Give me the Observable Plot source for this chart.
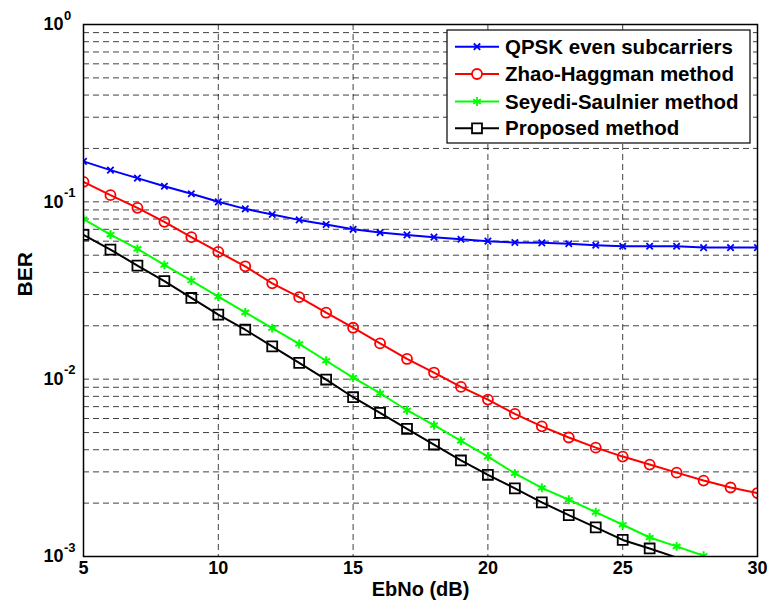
<!DOCTYPE html>
<html>
<head>
<meta charset="utf-8">
<script src="https://cdn.jsdelivr.net/npm/d3@7"></script>
<script src="https://cdn.jsdelivr.net/npm/@observablehq/plot@0.6"></script>
<style>
  html, body { margin: 0; padding: 0; background: #fff; }
  svg { font-family: "Liberation Sans", Arial, sans-serif; }
</style>
</head>
<body>
<div id="chart"></div>
<script>
// ---- data ----
const ebnoQpsk = [5,6,7,8,9,10,11,12,13,14,15,16,17,18,19,20,21,22,23,24,25,26,27,28,29,30];
const qpsk = [0.169,0.151,0.136,0.1225,0.111,0.100,0.0913,0.0848,0.0791,0.0745,0.070,0.0671,0.0651,0.0632,0.0615,0.060,0.059,0.0587,0.058,0.0569,0.0562,0.0562,0.0562,0.0552,0.0552,0.0552];
const ebnoZhao = [5,6,7,8,9,10,11,12,13,14,15,16,17,18,19,20,21,22,23,24,25,26,27,28,29,30];
const zhao = [0.1297,0.109,0.0925,0.0771,0.0632,0.0522,0.0433,0.0347,0.029,0.0237,0.0195,0.0159,0.0130,0.0109,0.00904,0.00767,0.00637,0.00542,0.00469,0.00411,0.00366,0.0033,0.00297,0.00268,0.00245,0.00228];
const ebnoSeyedi = [5,6,7,8,9,10,11,12,13,14,15,16,17,18,19,20,21,22,23,24,25,26,27,28];
const seyedi = [0.0798,0.0654,0.0543,0.0441,0.036,0.0292,0.0238,0.0194,0.0158,0.0127,0.0102,0.00833,0.00668,0.0055,0.00449,0.00366,0.00294,0.00244,0.00209,0.00178,0.00151,0.00128,0.00114,0.00101];
const ebnoProposed = [5,6,7,8,9,10,11,12,13,14,15,16,17,18,19,20,21,22,23,24,25,26,27];
const proposed = [0.0651,0.0538,0.0437,0.0357,0.0287,0.0231,0.019,0.0153,0.01236,0.00995,0.00791,0.00646,0.00525,0.00428,0.00348,0.00289,0.00242,0.00202,0.00171,0.00146,0.00124,0.00111,0.000986];

const seriesNames = ["QPSK even subcarriers","Zhao-Haggman method","Seyedi-Saulnier method","Proposed method"];
const seriesColors = ["#0000ff","#ff0000","#00ff00","#000000"];
const seriesSymbols = ["times","circle","asterisk","square"];

const xTicks = [5,10,15,20,25,30];
const yTicks = [1e-3,1e-2,1e-1,1];
const yTickExponents = ["-3","-2","-1","0"];
const xLabel = "EbNo (dB)";
const yLabel = "BER";

// ---- build tables ----
const xs = [ebnoQpsk, ebnoZhao, ebnoSeyedi, ebnoProposed];
const ys = [qpsk, zhao, seyedi, proposed];
const rows = [];
seriesNames.forEach((name, s) => xs[s].forEach((x, i) => rows.push({series: name, s, x, y: ys[s][i]})));

const yGrid = [];
for (let k = -3; k < 0; k++) for (let m = 1; m <= 9; m++) { const v = m * Math.pow(10, k); if (v > 1e-3) yGrid.push(v); }
const xGrid = xTicks.filter(d => d > 5 && d < 30);

const font = "Liberation Sans, Arial, sans-serif";
const marks = [
  Plot.ruleY(yGrid, {y: d => d, stroke: "#000", strokeOpacity: 0.75, strokeWidth: 1, strokeDasharray: "6,4"}),
  Plot.ruleX(xGrid, {x: d => d, stroke: "#000", strokeOpacity: 0.75, strokeWidth: 1, strokeDasharray: "6,4"}),
];
seriesNames.forEach((name, s) => {
  const d = rows.filter(r => r.s === s);
  marks.push(Plot.line(d, {x: "x", y: "y", stroke: seriesColors[s], strokeWidth: 2, clip: true}));
  const dd = d.filter(r => r.y >= 1e-3);
  const opts = {x: "x", y: "y", stroke: seriesColors[s], fill: "none", symbol: () => seriesSymbols[s], clip: true};
  if (s === 0) Object.assign(opts, {r: 3, strokeWidth: 1.8});
  if (s === 1) Object.assign(opts, {r: 5, strokeWidth: 1.8});
  if (s === 2) Object.assign(opts, {r: 4.2, strokeWidth: 2});
  if (s === 3) Object.assign(opts, {r: 5.6, strokeWidth: 1.8});
  marks.push(Plot.dot(dd, opts));
});
marks.push(
  Plot.frame({stroke: "#000", strokeWidth: 1.5}),
  Plot.text(xTicks, {x: d => d, frameAnchor: "bottom", dy: 17, text: d => String(d), fontSize: 18, fontWeight: "bold", fill: "#000"}),
  Plot.text(yTicks, {y: d => d, frameAnchor: "left", dx: -20, textAnchor: "end", text: () => "10", fontSize: 18, fontWeight: "bold", fill: "#000"}),
  Plot.text(yTicks, {y: d => d, frameAnchor: "left", dx: -19.5, dy: -9, textAnchor: "start", text: (d, i) => yTickExponents[i], fontSize: 13, fontWeight: "bold", fill: "#000"}),
  Plot.text([xLabel], {frameAnchor: "bottom", dy: 39, text: d => d, fontSize: 20, fontWeight: "bold", fill: "#000"}),
  Plot.text([yLabel], {frameAnchor: "left", dx: -58.5, dy: 6, rotate: -90, text: d => d, fontSize: 21, fontWeight: "bold", fill: "#000"})
);

const chart = Plot.plot({
  width: 769,
  height: 610,
  marginLeft: 83,
  marginRight: 12,
  marginTop: 24,
  marginBottom: 54,
  style: {fontFamily: font, background: "#fff", overflow: "visible"},
  x: {domain: [5, 30], axis: null},
  y: {type: "log", domain: [1e-3, 1], axis: null},
  marks
});
document.getElementById("chart").appendChild(chart);

// ---- legend (inside the axes, top-right) ----
const svg = d3.select(chart);
const lg = svg.append("g").attr("text-anchor", "start");
lg.append("rect").attr("x", 447).attr("y", 30).attr("width", 303).attr("height", 113)
  .attr("fill", "#fff").attr("stroke", "#000").attr("stroke-width", 1.2);
const legendRows = [46.7, 74, 101.5, 128.3];
const legendR = [3, 5, 4.2, 5.6];
const symMap = {times: d3.symbolTimes, circle: d3.symbolCircle, asterisk: d3.symbolAsterisk, square: d3.symbolSquare};
seriesNames.forEach((name, s) => {
  const y = legendRows[s];
  lg.append("line").attr("x1", 455).attr("x2", 499).attr("y1", y).attr("y2", y)
    .attr("stroke", seriesColors[s]).attr("stroke-width", 2);
  lg.append("path").attr("transform", `translate(477,${y})`)
    .attr("d", d3.symbol(symMap[seriesSymbols[s]], Math.PI * legendR[s] * legendR[s])())
    .attr("fill", s === 1 || s === 3 ? "#fff" : "none").attr("stroke", seriesColors[s]).attr("stroke-width", 1.8);
  lg.append("text").attr("x", 505).attr("y", y).attr("dy", "0.35em").attr("text-anchor", "start")
    .attr("font-size", 20.5).attr("font-weight", "bold").attr("fill", "#000")
    .attr("font-family", font).text(name);
});
</script>
</body>
</html>
